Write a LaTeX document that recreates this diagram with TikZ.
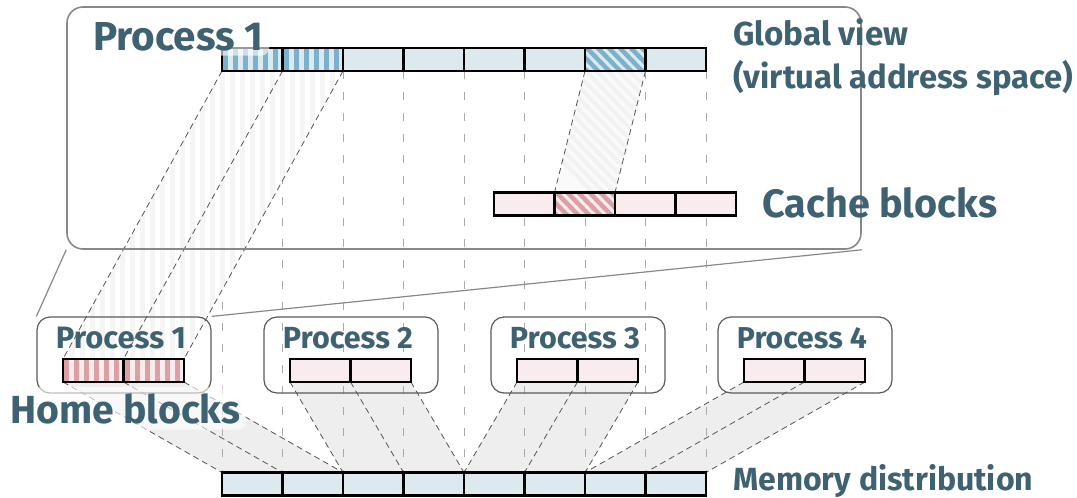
\documentclass[tikz,border=0pt]{standalone}
\usepackage{fontspec}
\setmainfont{Fira Sans}
\usepackage{graphicx}
\usetikzlibrary{calc}

\definecolor{ink}{RGB}{62,98,114}
\definecolor{blueblk}{RGB}{220,233,239}
\definecolor{bluestr}{RGB}{122,178,203}
\definecolor{pinkblk}{RGB}{248,236,238}
\definecolor{redstr}{RGB}{220,159,163}
\definecolor{memshade}{RGB}{238,238,238}
\definecolor{frame}{RGB}{136,136,136}
\definecolor{boxline}{RGB}{90,90,90}
\definecolor{link}{RGB}{85,85,85}
\definecolor{gridc}{RGB}{170,170,170}

\pgfdeclarelayer{shadelayer}
\pgfdeclarelayer{linelayer}
\pgfsetlayers{shadelayer,linelayer,main}

% fit a bold text to a given width
\newcommand{\fitw}[2]{\resizebox{#1}{!}{\bfseries #2}}

\tikzset{
  blk/.style={draw=black, line width=2.2pt, minimum width=60.5pt, minimum height=23pt,
              inner sep=0pt, outer sep=0pt},
  gblk/.style={blk, fill=blueblk},
  pblk/.style={blk, fill=pinkblk},
  vstripes/.style={path picture={
      \foreach \k in {0,...,6}{
        \fill[#1] ([xshift=\k*10pt+1pt]path picture bounding box.north west) rectangle ++(5pt,-30pt);}}},
  dstripes/.style={path picture={
      \foreach \k in {-3,...,8}{
        \draw[#1, line width=4.5pt] ([xshift=\k*11pt, yshift=2pt]path picture bounding box.north west) -- ++(26pt,-27pt);}}},
  pbox/.style={draw=boxline, line width=1.2pt, rounded corners=13pt, minimum width=174pt,
               minimum height=76pt, inner sep=0pt},
  lbl/.style={text=ink, inner sep=0pt},
  halo/.style={fill=white, fill opacity=0.6, text opacity=1, rounded corners=8pt},
  linkline/.style={draw=link, line width=0.8pt, dash pattern=on 6pt off 4pt},
  gridline/.style={draw=gridc, line width=1pt, dash pattern=on 8pt off 13pt},
}

\begin{document}
\begin{tikzpicture}[x=1pt,y=-1pt]
\useasboundingbox (0,0) rectangle (1077,498);

% ---------- frame of the global view ----------
\node[draw=frame, line width=1.6pt, rounded corners=16pt, minimum width=794pt,
      minimum height=242pt, inner sep=0pt] (view) at (464,128) {};

% ---------- per-process boxes ----------
\foreach \p in {1,...,4}{
  \node[pbox] (P\p) at ({124+227*(\p-1)},355) {};
  \node[lbl, anchor=base] (P\p lbl) at ({121+227*(\p-1)},348) {\fitw{130pt}{Process \p}};
}

% ---------- global view, memory distribution and cache bars ----------
\foreach \i in {1,...,8}{
  \node[gblk] (g\i) at ({222+60.5*(\i-0.5)},59.5) {};
  \node[gblk] (m\i) at ({222+60.5*(\i-0.5)},484) {};
}
\foreach \i in {1,...,4}{
  \node[pblk] (c\i) at ({494+60.5*(\i-0.5)},204) {};
}
% hatched blocks of the global view
\node[gblk, vstripes=bluestr] at (g1) {};
\node[gblk, vstripes=bluestr] at (g2) {};
\node[gblk, dstripes=bluestr] at (g7) {};
% hatched cache block
\node[pblk, dstripes=redstr] at (c2) {};

% ---------- home blocks ----------
\foreach \p in {1,...,4}{
  \node[pblk] (h\p a) at ({63+227*(\p-1)+30.25},370.5) {};
  \node[pblk] (h\p b) at ({63+227*(\p-1)+90.75},370.5) {};
}
\node[pblk, vstripes=redstr] at (h1a) {};
\node[pblk, vstripes=redstr] at (h1b) {};

% ---------- text ----------
\node[lbl, anchor=base west, halo, inner xsep=6pt, inner ysep=5pt] (title) at (87,50) {\fitw{170pt}{Process 1}};
\node[lbl, anchor=base west] (gv1) at (733,45) {\fitw{175pt}{Global view}};
\node[lbl, anchor=base west] (gv2) at (733,88) {\fitw{340pt}{(virtual address space)}};
\node[lbl, anchor=base west] (cache) at (762,217) {\fitw{235pt}{Cache blocks}};
\node[lbl, anchor=base west, halo, inner xsep=6pt, inner ysep=6pt] (home) at (4,423) {\fitw{230pt}{Home blocks}};
\node[lbl, anchor=base west] (mem) at (733,490) {\fitw{300pt}{Memory distribution}};

% ---------- shaded links from home blocks to memory ----------
\begin{pgfonlayer}{shadelayer}
  \foreach \p/\m/\n in {1/1/2, 2/3/4, 3/5/6, 4/7/8}{
    \fill[memshade] (h\p a.south west) -- (h\p b.south east) -- (m\n.north east) -- (m\m.north west) -- cycle;
  }
\end{pgfonlayer}

\begin{pgfonlayer}{linelayer}
  % vertical guides between the two blue bars
  \foreach \i in {1,...,8}{
    \draw[gridline] (g\i.south west) -- (m\i.north west);
  }
  \draw[gridline] (g8.south east) -- (m8.north east);

  % mapping of global blocks 1,2 to the home blocks of process 1
  \begin{scope}
    \clip (g1.south west) -- (g2.south east) -- (h1b.north east) -- (h1a.north west) -- cycle;
    \fill[white] (60,70) rectangle (345,360);
    \foreach \k in {0,...,28}{
      \fill[black!4] ({60+10*\k},70) rectangle ++(5,290);
    }
  \end{scope}
  \draw[linkline] (g1.south west) -- (h1a.north west);
  \draw[linkline] (g2.south west) -- (h1b.north west);
  \draw[linkline] (g2.south east) -- (h1b.north east);

  % mapping of global block 7 to cache block 2
  \begin{scope}
    \clip (g7.south west) -- (g7.south east) -- (c2.north east) -- (c2.north west) -- cycle;
    \fill[black!2] (550,70) rectangle (650,195);
    \foreach \k in {0,...,20}{
      \draw[black!5, line width=4pt] ({470+11*\k},65) -- ++(130,135);
    }
  \end{scope}
  \draw[linkline] (g7.south west) -- (c2.north west);
  \draw[linkline] (g7.south east) -- (c2.north east);

  % home blocks to memory distribution
  \foreach \p/\m/\n in {1/1/2, 2/3/4, 3/5/6, 4/7/8}{
    \draw[linkline] (h\p a.south west) -- (m\m.north west);
    \draw[linkline] (h\p b.south west) -- (m\n.north west);
    \draw[linkline] (h\p b.south east) -- (m\n.north east);
  }

  % zoom lines from the global view frame to process 1
  \draw[draw=frame, line width=1.2pt] (view.south west) -- (P1.north west);
  \draw[draw=frame, line width=1.2pt] (view.south east) -- (P1.north east);
\end{pgfonlayer}
\end{tikzpicture}
\end{document}
